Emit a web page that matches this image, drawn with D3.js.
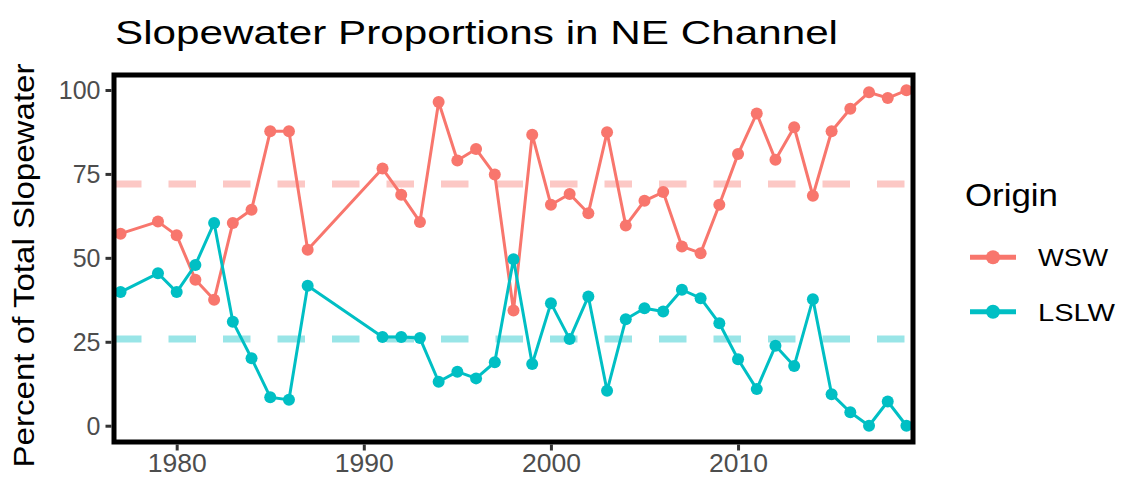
<!DOCTYPE html>
<html>
<head>
<meta charset="utf-8">
<script src="https://cdn.jsdelivr.net/npm/d3@7"></script>
<style>
  html, body { margin: 0; padding: 0; background: #fff; }
  svg { display: block; }
  text { font-family: "Liberation Sans", Arial, sans-serif; }
</style>
</head>
<body>
<svg id="chart" width="1122" height="483"></svg>
<script>
// ---- data ----
const years = [1977, 1979, 1980, 1981, 1982, 1983, 1984, 1985, 1986, 1987,
  1991, 1992, 1993, 1994, 1995, 1996, 1997, 1998, 1999, 2000,
  2001, 2002, 2003, 2004, 2005, 2006, 2007, 2008, 2009, 2010,
  2011, 2012, 2013, 2014, 2015, 2016, 2017, 2018, 2019];
const wsw = [57.2, 60.8, 56.7, 43.5, 37.5, 60.4, 64.3, 87.7, 87.7, 52.4,
  76.6, 68.8, 60.7, 96.4, 79.0, 82.4, 74.8, 34.3, 86.7, 65.8,
  69.0, 63.3, 87.4, 59.6, 67.0, 69.6, 53.4, 51.4, 65.8, 80.9,
  93.0, 79.2, 88.9, 68.5, 87.7, 94.4, 99.3, 97.6, 99.9];
const lslw = [39.8, 45.4, 39.8, 47.9, 60.4, 31.0, 20.1, 8.5, 7.7, 41.7,
  26.4, 26.4, 26.1, 13.1, 16.1, 14.1, 18.9, 49.6, 18.4, 36.5,
  25.8, 38.5, 10.4, 31.7, 35.0, 34.0, 40.5, 38.0, 30.5, 19.8,
  10.9, 23.8, 17.8, 37.7, 9.4, 4.0, 0.0, 7.2, 0.0];
const meanValues = [72.0, 25.8];           // dashed reference lines (WSW, LSLW)
const seriesNames = ["WSW", "LSLW"];
const seriesColors = ["#F8766D", "#00BFC4"];
const xTicks = [1980, 1990, 2000, 2010];
const yTicks = [0, 25, 50, 75, 100];
const titleText = "Slopewater Proportions in NE Channel";
const yTitle = "Percent of Total Slopewater";
const legendTitle = "Origin";

// ---- layout ----
const svg = d3.select("#chart");
const P = { left: 114, right: 913, top: 75, bottom: 442 };

const x = d3.scaleLinear().domain([1976.65, 2019.35]).range([P.left, P.right]);
const y = d3.scaleLinear().domain([-5, 105]).range([442.5, 73.2]);

const series = seriesNames.map((name, i) => ({
  name, color: seriesColors[i], mean: meanValues[i],
  values: years.map((yr, j) => ({ year: yr, v: (i === 0 ? wsw : lslw)[j] }))
}));

svg.append("defs").append("clipPath").attr("id", "clip")
  .append("rect").attr("x", P.left).attr("y", P.top)
  .attr("width", P.right - P.left).attr("height", P.bottom - P.top);

const panel = svg.append("g").attr("clip-path", "url(#clip)");

panel.selectAll("line.mean").data(series).join("line")
  .attr("class", "mean")
  .attr("x1", P.left).attr("x2", P.right)
  .attr("y1", d => y(d.mean)).attr("y2", d => y(d.mean))
  .attr("stroke", d => d.color).attr("stroke-opacity", 0.4)
  .attr("stroke-width", 7).attr("stroke-dasharray", "27.5 27");

const line = d3.line().x(d => x(d.year)).y(d => y(d.v));
panel.selectAll("path.series").data(series).join("path")
  .attr("class", "series")
  .attr("d", d => line(d.values))
  .attr("fill", "none").attr("stroke", d => d.color)
  .attr("stroke-width", 3).attr("stroke-linejoin", "round");

series.forEach(s => {
  panel.selectAll(null).data(s.values).join("circle")
    .attr("cx", d => x(d.year)).attr("cy", d => y(d.v))
    .attr("r", 6).attr("fill", s.color);
});

svg.append("rect").attr("x", P.left).attr("y", P.top)
  .attr("width", P.right - P.left).attr("height", P.bottom - P.top)
  .attr("fill", "none").attr("stroke", "#000").attr("stroke-width", 5);

const yAxis = svg.append("g").attr("transform", `translate(${P.left - 2.5},0)`)
  .call(d3.axisLeft(y).tickValues(yTicks).tickSize(6).tickPadding(5));
const xAxis = svg.append("g").attr("transform", `translate(0,${P.bottom + 2.5})`)
  .call(d3.axisBottom(x).tickValues(xTicks).tickFormat(d3.format("d")).tickSize(6).tickPadding(4));
[yAxis, xAxis].forEach(a => {
  a.select(".domain").remove();
  a.selectAll(".tick line").attr("stroke", "#333").attr("stroke-width", 3);
  a.selectAll(".tick text").attr("fill", "#4D4D4D").style("font-size", "25px");
});
yAxis.selectAll(".tick text").attr("dy", "0.36em");
xAxis.selectAll(".tick text").attr("textLength", 59).attr("lengthAdjust", "spacingAndGlyphs");

// titles
svg.append("text").attr("x", 115).attr("y", 43.5)
  .style("font-size", "33px").attr("fill", "#000")
  .attr("textLength", 723).attr("lengthAdjust", "spacingAndGlyphs").text(titleText);
svg.append("text").attr("transform", "translate(33.5,265.5) rotate(-90)")
  .attr("text-anchor", "middle").style("font-size", "29px").attr("fill", "#000")
  .attr("textLength", 404).attr("lengthAdjust", "spacingAndGlyphs")
  .text(yTitle);

// legend
const lg = svg.append("g");
lg.append("text").attr("x", 965).attr("y", 206).style("font-size", "31px")
  .attr("fill", "#000").attr("textLength", 93).attr("lengthAdjust", "spacingAndGlyphs")
  .text(legendTitle);
const keyY = [257.3, 311.7];
const labW = [70, 77];
series.forEach((s, i) => {
  lg.append("line").attr("x1", 970).attr("x2", 1016)
    .attr("y1", keyY[i]).attr("y2", keyY[i])
    .attr("stroke", s.color).attr("stroke-width", 5);
  lg.append("circle").attr("cx", 993).attr("cy", keyY[i]).attr("r", 7).attr("fill", s.color);
  lg.append("text").attr("x", 1038).attr("y", keyY[i] + 9)
    .style("font-size", "23px").attr("fill", "#000")
    .attr("textLength", labW[i]).attr("lengthAdjust", "spacingAndGlyphs")
    .text(s.name);
});
</script>
</body>
</html>
